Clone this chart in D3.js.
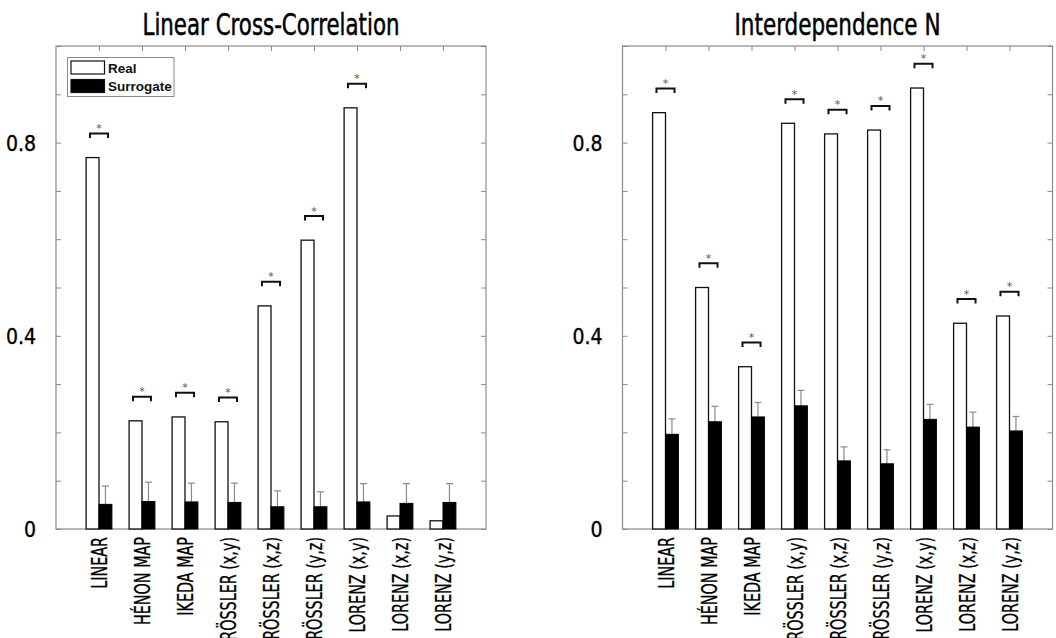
<!DOCTYPE html>
<html>
<head>
<meta charset="utf-8">
<script src="https://cdn.jsdelivr.net/npm/d3@7"></script>
<style>
    body { margin: 0; background: #fff; }
    svg { display: block; }
</style>
</head>
<body>
<svg id="chart" width="1056" height="638"></svg>
<script>
var categories = ['LINEAR', 'HÉNON MAP', 'IKEDA MAP', 'RÖSSLER (x,y)', 'RÖSSLER (x,z)',
    'RÖSSLER (y,z)', 'LORENZ (x,y)', 'LORENZ (x,z)', 'LORENZ (y,z)'];

var yTicks = [0, 0.1, 0.2, 0.3, 0.4, 0.5, 0.6, 0.7, 0.8, 0.9, 1.0];
var yTickLabels = [0, 0.4, 0.8];

// linear cross-correlation
var ccReal = [0.769, 0.224, 0.232, 0.222, 0.462, 0.598, 0.872, 0.027, 0.017];
var ccSurrogate = [0.051, 0.057, 0.056, 0.055, 0.046, 0.046, 0.056, 0.053, 0.055];
var ccSurrogateErr = [0.038, 0.040, 0.039, 0.040, 0.033, 0.031, 0.038, 0.041, 0.039];
var ccSignificant = [true, true, true, true, true, true, true, false, false];

// interdependence N
var nReal = [0.862, 0.500, 0.336, 0.840, 0.818, 0.826, 0.913, 0.426, 0.441];
var nSurrogate = [0.196, 0.222, 0.232, 0.255, 0.141, 0.135, 0.227, 0.211, 0.203];
var nSurrogateErr = [0.032, 0.032, 0.030, 0.032, 0.029, 0.029, 0.031, 0.031, 0.030];
var nSignificant = [true, true, true, true, true, true, true, true, true];

var narrow = '"Liberation Sans Narrow", "DejaVu Sans Condensed", sans-serif';
var axisGray = '#8a8a8a';

var svg = d3.select('#chart');

function drawPanel(opts) {
    var x = d3.scaleLinear().domain([0, categories.length + 1]).range([opts.left, opts.left + 430]);
    var y = d3.scaleLinear().domain([0, 1]).range([529, 46]);
    var barW = 0.3;

    var g = svg.append('g').attr('class', 'panel');

    // box
    g.append('rect')
        .attr('x', x(0))
        .attr('y', y(1))
        .attr('width', x(categories.length + 1) - x(0))
        .attr('height', y(0) - y(1))
        .attr('fill', 'none')
        .attr('stroke', axisGray)
        .attr('stroke-width', 1.2);

    // inner ticks, left and right
    g.append('g').attr('transform', 'translate(' + x(0) + ',0)')
        .call(d3.axisRight(y).tickValues(yTicks).tickSize(5).tickFormat(''))
        .call(s => s.select('.domain').remove())
        .call(s => s.selectAll('line').attr('stroke', axisGray));
    g.append('g').attr('transform', 'translate(' + x(categories.length + 1) + ',0)')
        .call(d3.axisLeft(y).tickValues(yTicks).tickSize(5).tickFormat(''))
        .call(s => s.select('.domain').remove())
        .call(s => s.selectAll('line').attr('stroke', axisGray));

    // top ticks at categories
    g.append('g').attr('transform', 'translate(0,' + y(1) + ')')
        .call(d3.axisBottom(x).tickValues(d3.range(1, categories.length + 1)).tickSize(5).tickFormat(''))
        .call(s => s.select('.domain').remove())
        .call(s => s.selectAll('line').attr('stroke', axisGray));

    // y labels
    g.append('g').attr('transform', 'translate(' + (x(0) - 17) + ',0)')
        .call(d3.axisLeft(y).tickValues(yTickLabels).tickSize(0).tickFormat(d3.format('')))
        .call(s => s.select('.domain').remove())
        .call(s => s.selectAll('text')
            .attr('font-family', narrow)
            .attr('font-size', 21)
            .attr('fill', '#000')
            .attr('stroke', '#000')
            .attr('stroke-width', 0.35)
            .attr('dy', '0.36em'));

    // x labels (long ones run off the bottom edge, as in the original figure)
    g.append('g')
        .selectAll('text')
        .data(categories)
        .join('text')
        .attr('transform', (d, i) => 'translate(' + (x(i + 1) + 0.5) + ',537) rotate(-90) scale(0.76,1)')
        .attr('text-anchor', 'end')
        .attr('dy', '0.36em')
        .attr('font-family', narrow)
        .attr('font-size', 21)
        .attr('fill', '#000')
        .attr('stroke', '#000')
        .attr('stroke-width', 0.3)
        .text(d => d);

    // error bars (drawn under the bars)
    var errG = g.append('g');
    errG.selectAll('line.err')
        .data(opts.surrogate)
        .join('line')
        .attr('class', 'err')
        .attr('x1', (d, i) => x(i + 1 + barW / 2))
        .attr('x2', (d, i) => x(i + 1 + barW / 2))
        .attr('y1', d => y(d))
        .attr('y2', (d, i) => y(d + opts.err[i]))
        .attr('stroke', axisGray)
        .attr('stroke-width', 1.2);
    errG.selectAll('line.cap')
        .data(opts.surrogate)
        .join('line')
        .attr('class', 'cap')
        .attr('x1', (d, i) => x(i + 1 + barW / 2) - 3.5)
        .attr('x2', (d, i) => x(i + 1 + barW / 2) + 3.5)
        .attr('y1', (d, i) => y(d + opts.err[i]))
        .attr('y2', (d, i) => y(d + opts.err[i]))
        .attr('stroke', axisGray)
        .attr('stroke-width', 1.2);

    // real bars
    g.append('g')
        .selectAll('rect')
        .data(opts.real)
        .join('rect')
        .attr('x', (d, i) => x(i + 1 - barW))
        .attr('y', d => y(d))
        .attr('width', x(barW) - x(0))
        .attr('height', d => y(0) - y(d))
        .attr('fill', '#fff')
        .attr('stroke', '#111')
        .attr('stroke-width', 1.3);

    // surrogate bars
    g.append('g')
        .selectAll('rect')
        .data(opts.surrogate)
        .join('rect')
        .attr('x', (d, i) => x(i + 1))
        .attr('y', d => y(d))
        .attr('width', x(barW) - x(0))
        .attr('height', d => y(0) - y(d))
        .attr('fill', '#000')
        .attr('stroke', '#000')
        .attr('stroke-width', 1);

    // significance brackets
    var sig = opts.real.map((d, i) => ({
        i: i,
        top: Math.max(d, opts.surrogate[i] + opts.err[i]) + 0.05
    })).filter(d => opts.significant[d.i]);

    var br = g.append('g').selectAll('g').data(sig).join('g');
    br.append('path')
        .attr('d', d => {
            var x0 = x(d.i + 1 - 0.21);
            var x1 = x(d.i + 1 + 0.21);
            var yy = y(d.top);
            return 'M' + x0 + ',' + (yy + 4.5) + 'V' + yy + 'H' + x1 + 'V' + (yy + 4.5);
        })
        .attr('fill', 'none')
        .attr('stroke', '#111')
        .attr('stroke-width', 2);
    br.append('text')
        .attr('x', d => x(d.i + 1))
        .attr('y', d => y(d.top) - 1.5)
        .attr('text-anchor', 'middle')
        .attr('font-family', 'DejaVu Sans, sans-serif')
        .attr('font-size', 11)
        .attr('fill', '#555')
        .text('*');

    // title
    g.append('text')
        .attr('x', (x(0) + x(categories.length + 1)) / 2)
        .attr('y', 35)
        .attr('text-anchor', 'middle')
        .attr('font-family', narrow)
        .attr('font-size', 30)
        .attr('textLength', opts.titleWidth)
        .attr('lengthAdjust', 'spacingAndGlyphs')
        .attr('fill', '#000')
        .attr('stroke', '#000')
        .attr('stroke-width', 0.5)
        .text(opts.title);

    return { x: x, y: y, g: g };
}

var left = drawPanel({
    left: 56,
    title: 'Linear Cross-Correlation',
    titleWidth: 257,
    real: ccReal,
    surrogate: ccSurrogate,
    err: ccSurrogateErr,
    significant: ccSignificant
});

drawPanel({
    left: 622.5,
    title: 'Interdependence N',
    titleWidth: 206,
    real: nReal,
    surrogate: nSurrogate,
    err: nSurrogateErr,
    significant: nSignificant
});

// legend (left panel only)
var legendItems = ['Real', 'Surrogate'];
var legendFill = ['#fff', '#000'];

var legend = left.g.append('g').attr('transform', 'translate(67.5,57.5)');
legend.append('rect')
    .attr('width', 106.5)
    .attr('height', 39)
    .attr('fill', '#fff')
    .attr('stroke', axisGray)
    .attr('stroke-width', 1);
var li = legend.selectAll('g.item')
    .data(legendItems)
    .join('g')
    .attr('class', 'item')
    .attr('transform', (d, i) => 'translate(3.5,' + (3.5 + i * 18.5) + ')');
li.append('rect')
    .attr('width', 33.5)
    .attr('height', 13)
    .attr('fill', (d, i) => legendFill[i])
    .attr('stroke', '#111')
    .attr('stroke-width', 1.2);
li.append('text')
    .attr('x', 37)
    .attr('y', 11.5)
    .attr('font-family', '"Liberation Sans", Arial, sans-serif')
    .attr('font-weight', 'bold')
    .attr('font-size', 13.5)
    .attr('fill', '#111')
    .text(d => d);
</script>
</body>
</html>
